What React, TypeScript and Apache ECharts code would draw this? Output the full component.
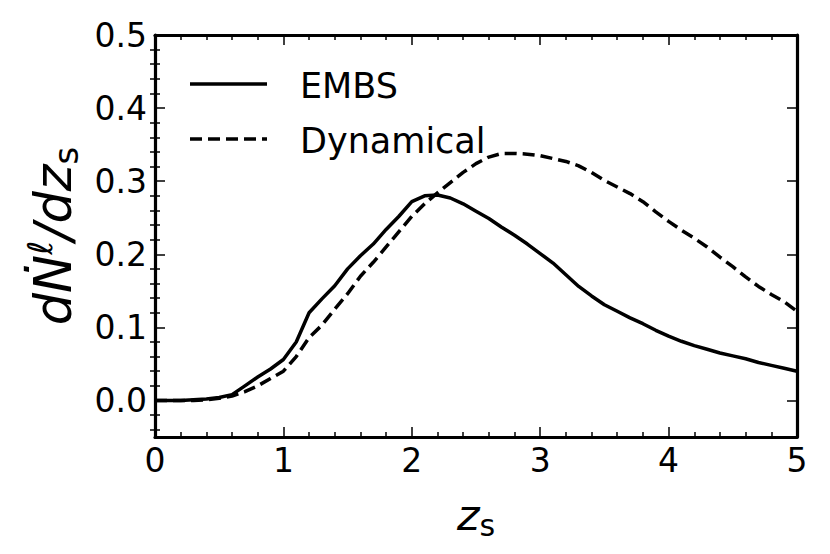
import React, { useEffect, useRef } from 'react';
import * as echarts from 'echarts';

const zs = [0.0, 0.1, 0.2, 0.3, 0.4, 0.5, 0.6, 0.7, 0.8, 0.9, 1.0, 1.1, 1.2, 1.3, 1.4, 1.5, 1.6, 1.7, 1.8, 1.9, 2.0, 2.1, 2.2, 2.3, 2.4, 2.5, 2.6, 2.7, 2.8, 2.9, 3.0, 3.1, 3.2, 3.3, 3.4, 3.5, 3.6, 3.7, 3.8, 3.9, 4.0, 4.1, 4.2, 4.3, 4.4, 4.5, 4.6, 4.7, 4.8, 4.9, 5.0];

const embs = [0.0, 0.0, 0.0, 0.001, 0.002, 0.004, 0.008, 0.02, 0.032, 0.043, 0.056, 0.08, 0.12, 0.139, 0.157, 0.18, 0.198, 0.214, 0.234, 0.252, 0.272, 0.28, 0.281, 0.277, 0.269, 0.259, 0.249, 0.237, 0.226, 0.214, 0.201, 0.188, 0.172, 0.156, 0.143, 0.131, 0.122, 0.113, 0.105, 0.096, 0.088, 0.081, 0.075, 0.07, 0.065, 0.061, 0.057, 0.052, 0.048, 0.044, 0.04];

const dynamical = [0.0, 0.0, 0.0, 0.0, 0.001, 0.003, 0.006, 0.012, 0.02, 0.03, 0.04, 0.06, 0.086, 0.103, 0.125, 0.146, 0.17, 0.189, 0.21, 0.231, 0.252, 0.269, 0.284, 0.298, 0.312, 0.324, 0.333, 0.338, 0.338, 0.337, 0.335, 0.331, 0.327, 0.321, 0.312, 0.301, 0.292, 0.283, 0.272, 0.258, 0.245, 0.233, 0.222, 0.21, 0.196, 0.183, 0.169, 0.156, 0.145, 0.135, 0.122];

const seriesNames = ['EMBS', 'Dynamical'];
const yMajor = [0.0, 0.1, 0.2, 0.3, 0.4, 0.5];
const yMinor = [-0.04, -0.02, 0.02, 0.04, 0.06, 0.08, 0.12, 0.14, 0.16, 0.18, 0.22, 0.24, 0.26, 0.28, 0.32, 0.34, 0.36, 0.38, 0.42, 0.44, 0.46, 0.48];

const FONT = 'DejaVu Sans';
const DASH = [12, 6];

export default function App() {
  const ref = useRef<HTMLDivElement>(null);
  useEffect(() => {
    if (!ref.current) return;
    const chart = echarts.init(ref.current, null, { renderer: 'svg' });
    const axisLine = { show: true, onZero: false, lineStyle: { color: '#000', width: 3.2 } };
    const majorTick = { show: true, inside: true, length: 10, lineStyle: { color: '#000', width: 1.5 } };
    const minorTick = { show: true, splitNumber: 5, length: 5, lineStyle: { color: '#000', width: 1.5 } };
    const yBase = { type: 'value', min: -0.05, max: 0.5, splitLine: { show: false } };
    const legendText = { fontFamily: FONT, fontSize: 35, fill: '#000' };
    const option: any = {
      animation: false,
      backgroundColor: '#fff',
      grid: { left: 155, right: 33, top: 35, bottom: 117, containLabel: false },
      graphic: [
        { type: 'line', shape: { x1: 190, y1: 84, x2: 267, y2: 84 }, style: { stroke: '#000', lineWidth: 3.5 } },
        { type: 'text', x: 300, y: 86, style: { ...legendText, text: seriesNames[0], verticalAlign: 'middle' } },
        { type: 'line', shape: { x1: 190, y1: 139, x2: 267, y2: 139 }, style: { stroke: '#000', lineWidth: 3.5, lineDash: DASH } },
        { type: 'text', x: 300, y: 141, style: { ...legendText, text: seriesNames[1], verticalAlign: 'middle' } },
      ],
      xAxis: [
        {
          type: 'value', min: 0, max: 5, interval: 1, position: 'bottom',
          axisLine, axisTick: majorTick,
          minorTick,
          splitLine: { show: false },
          axisLabel: { show: true, fontFamily: FONT, fontSize: 33, color: '#000', margin: 7, formatter: (v: number) => String(v) },
          name: '{i|z}{s|s}',
          nameLocation: 'middle',
          nameGap: 53,
          nameTextStyle: {
            rich: {
              i: { fontFamily: FONT, fontStyle: 'italic', fontSize: 43, color: '#000', lineHeight: 50 },
              s: { fontFamily: FONT, fontSize: 30, color: '#000', lineHeight: 30, verticalAlign: 'bottom' },
            },
          },
        },
        {
          type: 'value', min: 0, max: 5, interval: 1, position: 'top',
          axisLine, axisTick: majorTick, minorTick,
          splitLine: { show: false }, axisLabel: { show: false },
        },
      ],
      yAxis: [
        {
          ...yBase, position: 'left', axisLine,
          axisTick: { ...majorTick, customValues: yMajor },
          axisLabel: { show: true, customValues: yMajor, fontFamily: FONT, fontSize: 33, color: '#000', margin: 8, formatter: (v: number) => v.toFixed(1) },
          name: '{i|dṄ}{u|ℓ}{i|/dz}{s|s}',
          nameLocation: 'middle',
          nameGap: 72,
          nameTextStyle: {
            rich: {
              i: { fontFamily: FONT, fontStyle: 'italic', fontSize: 51, color: '#000', lineHeight: 60 },
              u: { fontFamily: FONT, fontStyle: 'italic', fontSize: 34, color: '#000', lineHeight: 34, verticalAlign: 'top' },
              s: { fontFamily: FONT, fontSize: 34, color: '#000', lineHeight: 34, verticalAlign: 'bottom' },
            },
          },
        },
        {
          ...yBase, position: 'left', axisLine: { show: false },
          axisTick: { show: true, inside: true, length: 5, customValues: yMinor, lineStyle: { color: '#000', width: 1.5 } },
          axisLabel: { show: false },
        },
        {
          ...yBase, position: 'right', axisLine,
          axisTick: { ...majorTick, customValues: yMajor },
          axisLabel: { show: false },
        },
        {
          ...yBase, position: 'right', axisLine: { show: false },
          axisTick: { show: true, inside: true, length: 5, customValues: yMinor, lineStyle: { color: '#000', width: 1.5 } },
          axisLabel: { show: false },
        },
      ],
      series: [
        {
          name: seriesNames[0], type: 'line', xAxisIndex: 0, yAxisIndex: 0,
          symbol: 'none', itemStyle: { color: '#000' },
          lineStyle: { color: '#000', width: 3.5, type: 'solid' },
          data: zs.map((x, i) => [x, embs[i]]),
        },
        {
          name: seriesNames[1], type: 'line', xAxisIndex: 0, yAxisIndex: 0,
          symbol: 'none', itemStyle: { color: '#000' },
          lineStyle: { color: '#000', width: 3.5, type: DASH },
          data: zs.map((x, i) => [x, dynamical[i]]),
        },
      ],
    };
    chart.setOption(option);
    return () => chart.dispose();
  }, []);
  return <div ref={ref} style={{ position: 'fixed', left: 0, top: 0, width: 830, height: 554, background: '#fff' }} />;
}
